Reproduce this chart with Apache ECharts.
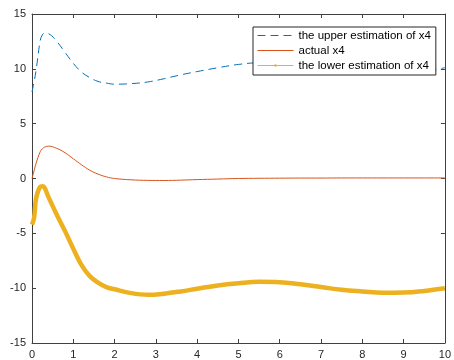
<!DOCTYPE html>
<html>
<head>
<meta charset="utf-8">
<script src="https://cdn.jsdelivr.net/npm/echarts@6/dist/echarts.min.js"></script>
<style>
  html, body { margin: 0; padding: 0; background: #fff; }
  #main { width: 454px; height: 360px; }
</style>
</head>
<body>
<div id="main"></div>
<script>
// time samples
var tVals = [0, 0.05, 0.1, 0.2, 0.25, 0.3, 0.4, 0.6, 0.8, 1.0, 1.2, 1.4, 1.6, 1.8, 2.0, 2.4, 2.8, 3.2, 3.6, 4.0, 4.5, 5.0, 5.5, 6.0, 6.5, 7.0, 7.5, 8.0, 8.5, 9.0, 9.5, 10];

var upperVals = [7.9, 8.8, 9.9, 12.6, 13.1, 13.25, 13.2, 12.5, 11.5, 10.5, 9.7, 9.2, 8.85, 8.7, 8.6, 8.65, 8.8, 9.1, 9.45, 9.75, 10.1, 10.4, 10.55, 10.55, 10.4, 10.15, 9.9, 9.75, 9.7, 9.7, 9.8, 10.1];
var actualVals = [0, 0.7, 1.4, 2.45, 2.7, 2.85, 2.95, 2.75, 2.35, 1.8, 1.25, 0.75, 0.4, 0.15, 0.0, -0.12, -0.17, -0.18, -0.15, -0.1, -0.05, 0, 0.02, 0.03, 0.04, 0.04, 0.05, 0.05, 0.05, 0.05, 0.05, 0.05];
var lowerVals = [-4.2, -3.6, -1.8, -0.75, -0.7, -0.8, -1.7, -3.3, -4.8, -6.4, -7.9, -8.9, -9.5, -9.9, -10.1, -10.45, -10.6, -10.5, -10.3, -10.05, -9.75, -9.55, -9.42, -9.45, -9.65, -9.9, -10.15, -10.3, -10.42, -10.4, -10.25, -10.0];

var names = ['the upper estimation of x4', 'actual x4', 'the lower estimation of x4'];

function pairs(vals) {
  var out = [];
  for (var i = 0; i < tVals.length; i++) out.push([tVals[i], vals[i]]);
  return out;
}

var axisColor = '#404040';
var font = 'Liberation Sans, Arial, sans-serif';
var labelStyle = { color: '#262626', fontSize: 11, fontFamily: font };
var dash = [8, 5];

var chart = echarts.init(document.getElementById('main'));
chart.setOption({
  animation: false,
  grid: { left: 32, right: 7, top: 14, bottom: 17, containLabel: false },
  legend: {
    left: 253, top: 27,
    orient: 'vertical',
    data: [
      { name: names[0], itemStyle: { opacity: 0 }, lineStyle: { width: 1, type: dash } },
      { name: names[1], itemStyle: { opacity: 0 }, lineStyle: { width: 1 } },
      { name: names[2], lineStyle: { width: 1 } }
    ],
    backgroundColor: '#fff',
    borderColor: '#262626',
    borderWidth: 1,
    borderRadius: 0,
    padding: [2, 5, 3, 4],
    itemGap: 2,
    itemWidth: 36,
    itemHeight: 3,
    textStyle: { color: '#000', fontSize: 11.5, fontFamily: font, lineHeight: 13 }
  },
  xAxis: [{
    type: 'value', min: 0, max: 10, interval: 1,
    axisLine: { onZero: false, lineStyle: { color: axisColor } },
    axisTick: { inside: true, length: 4, lineStyle: { color: axisColor } },
    axisLabel: Object.assign({ margin: 6 }, labelStyle),
    splitLine: { show: false }
  }, {
    type: 'value', min: 0, max: 10, interval: 1, position: 'top',
    axisLine: { onZero: false, lineStyle: { color: axisColor } },
    axisTick: { inside: true, length: 4, lineStyle: { color: axisColor } },
    axisLabel: { show: false },
    splitLine: { show: false }
  }],
  yAxis: [{
    type: 'value', min: -15, max: 15, interval: 5,
    axisLine: { show: true, onZero: false, lineStyle: { color: axisColor } },
    axisTick: { show: true, inside: true, length: 4, lineStyle: { color: axisColor } },
    axisLabel: Object.assign({ margin: 6 }, labelStyle),
    splitLine: { show: false }
  }, {
    type: 'value', min: -15, max: 15, interval: 5, position: 'right',
    axisLine: { show: true, onZero: false, lineStyle: { color: axisColor } },
    axisTick: { show: true, inside: true, length: 4, lineStyle: { color: axisColor } },
    axisLabel: { show: false },
    splitLine: { show: false }
  }],
  series: [{
    name: names[0], type: 'line', smooth: 0.4, symbol: 'none',
    data: pairs(upperVals),
    lineStyle: { color: '#0072BD', width: 1, type: dash },
    itemStyle: { color: '#0072BD' }
  }, {
    name: names[1], type: 'line', smooth: 0.4, symbol: 'none',
    data: pairs(actualVals),
    lineStyle: { color: '#D95319', width: 1 },
    itemStyle: { color: '#D95319' }
  }, {
    name: names[2], type: 'line', smooth: 0.4, symbol: 'circle', symbolSize: 3, showSymbol: false,
    data: pairs(lowerVals),
    lineStyle: { color: '#EDB120', width: 4.5 },
    itemStyle: { color: '#EDB120' },
    z: 1
  }]
});
</script>
</body>
</html>
